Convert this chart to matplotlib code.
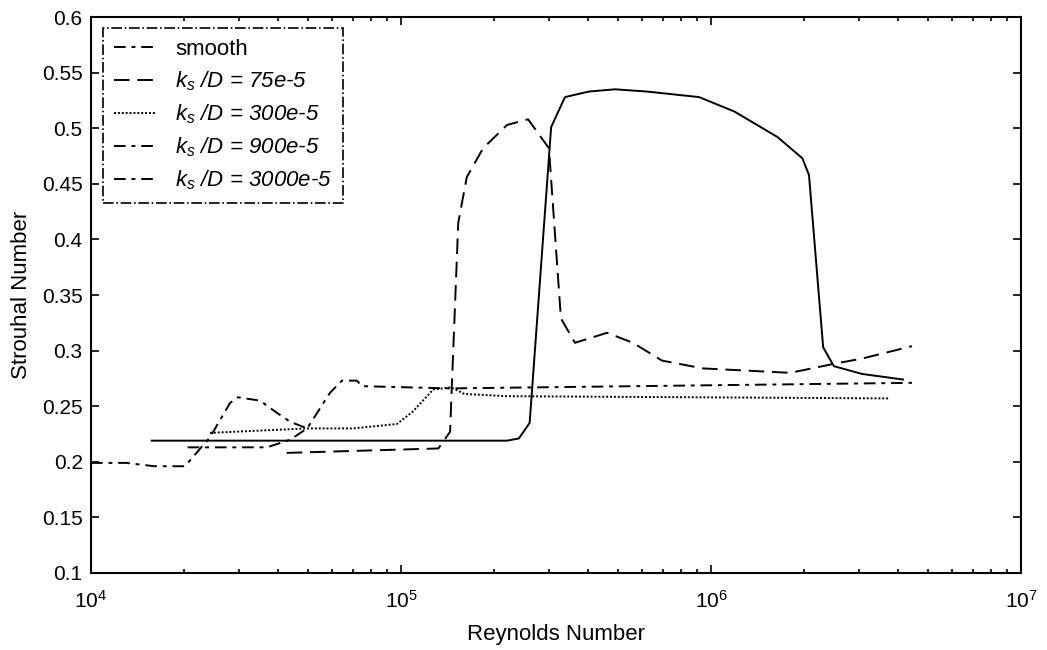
import matplotlib
matplotlib.use("Agg")
import matplotlib.pyplot as plt
from matplotlib.lines import Line2D

plt.rcParams['font.family'] = ['Liberation Sans', 'DejaVu Sans']
plt.rcParams['mathtext.fontset'] = 'custom'
plt.rcParams['mathtext.rm'] = 'Liberation Sans'
plt.rcParams['mathtext.it'] = 'Liberation Sans:italic'

# Strouhal number vs Reynolds number
re_smooth = [1.57e4, 1.36e5, 2.2e5, 2.4e5, 2.6e5, 3.05e5, 3.38e5, 4.04e5, 4.9e5,
             6.2e5, 9.15e5, 1.19e6, 1.64e6, 1.97e6, 2.07e6, 2.3e6, 2.49e6, 3.07e6, 4.16e6]
st_smooth = [0.219, 0.219, 0.219, 0.221, 0.235, 0.501, 0.528, 0.533, 0.535,
             0.533, 0.528, 0.515, 0.492, 0.473, 0.458, 0.303, 0.286, 0.279, 0.274]

re_75 = [4.28e4, 1.32e5, 1.44e5, 1.46e5, 1.53e5, 1.63e5, 1.84e5, 2.2e5, 2.57e5, 3.0e5,
         3.28e5, 3.64e5, 4.62e5, 5.6e5, 6.95e5, 9.4e5, 1.8e6, 2.48e6, 3.09e6, 4.45e6]
st_75 = [0.208, 0.212, 0.227, 0.271, 0.415, 0.456, 0.482, 0.503, 0.508, 0.482,
         0.329, 0.307, 0.316, 0.307, 0.291, 0.284, 0.280, 0.288, 0.293, 0.304]

re_300 = [2.42e4, 4.98e4, 7.0e4, 9.7e4, 1.09e5, 1.27e5, 1.45e5, 1.6e5, 2.2e5, 3.73e6]
st_300 = [0.226, 0.230, 0.230, 0.234, 0.245, 0.265, 0.267, 0.261, 0.259, 0.257]

re_900 = [2.05e4, 3.7e4, 4.4e4, 4.98e4, 5.9e4, 6.45e4, 7.2e4, 7.5e4, 1.44e5, 4.45e6]
st_900 = [0.213, 0.213, 0.220, 0.230, 0.262, 0.273, 0.273, 0.268, 0.266, 0.271]

re_3000 = [1.0e4, 1.3e4, 1.6e4, 2.01e4, 2.42e4, 2.81e4, 2.98e4, 3.51e4, 3.98e4, 4.39e4, 4.98e4]
st_3000 = [0.199, 0.199, 0.196, 0.196, 0.222, 0.253, 0.258, 0.255, 0.244, 0.236, 0.230]

legend_labels = ['smooth', '$k_s$ /D = 75e-5', '$k_s$ /D = 300e-5',
                 '$k_s$ /D = 900e-5', '$k_s$ /D = 3000e-5']

dashdot = (0, (6, 3, 2, 3))
longdash = (0, (8, 4))
dotted = (0, (1, 1))

fig = plt.figure(figsize=(10.47, 6.5), dpi=100)
ax = fig.add_axes([0.0869, 0.1185, 0.8883, 0.8553])

ax.plot(re_smooth, st_smooth, color='k', lw=1.4, ls='-')
ax.plot(re_75, st_75, color='k', lw=1.4, ls=longdash)
ax.plot(re_300, st_300, color='k', lw=1.4, ls=dotted)
ax.plot(re_900, st_900, color='k', lw=1.4, ls=dashdot)
ax.plot(re_3000, st_3000, color='k', lw=1.4, ls=dashdot)

ax.set_xscale('log')
ax.set_xlim(1e4, 1e7)
ax.set_ylim(0.1, 0.6)
ax.set_yticks([0.1, 0.15, 0.2, 0.25, 0.3, 0.35, 0.4, 0.45, 0.5, 0.55, 0.6])
ax.set_yticklabels(['0.1', '0.15', '0.2', '0.25', '0.3', '0.35', '0.4', '0.45',
                    '0.5', '0.55', '0.6'])
ax.tick_params(which='both', direction='in', top=True, right=True, labelsize=15,
               width=1.2)
ax.tick_params(which='major', length=6)
ax.tick_params(axis='y', pad=6)
ax.tick_params(axis='x', pad=12)
ax.tick_params(which='minor', length=3)
for s in ax.spines.values():
    s.set_linewidth(1.5)

ax.set_xlabel('Reynolds Number', fontsize=16, labelpad=9)
ax.set_ylabel('Strouhal Number', fontsize=16, labelpad=7)

handles = [Line2D([], [], color='k', lw=1.4, ls=st) for st in
           [dashdot, longdash, dotted, dashdot, dashdot]]
leg = ax.legend(handles, legend_labels, loc='upper left',
                bbox_to_anchor=(0.0129, 0.98), borderaxespad=0, fancybox=False,
                framealpha=1, edgecolor='k', fontsize=16, handlelength=1.9,
                handletextpad=0.85, borderpad=0.5, labelspacing=0.42)
leg.get_frame().set_linestyle('-.')
leg.get_frame().set_linewidth(1.2)
for t in leg.get_texts()[1:]:
    t.set_fontstyle('italic')

fig.savefig('out.png', dpi=100)
